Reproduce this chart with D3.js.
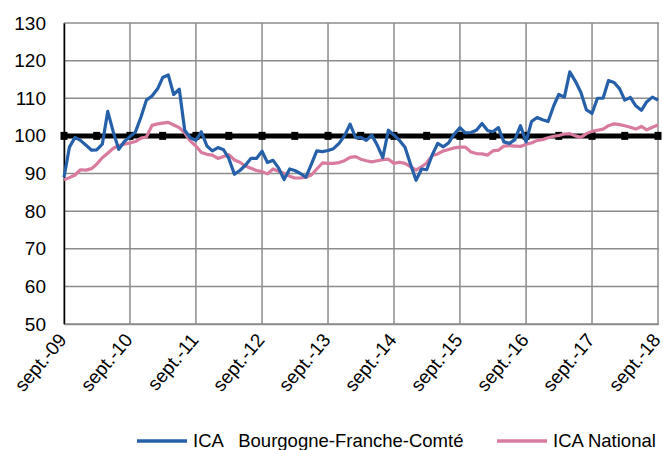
<!doctype html>
<html lang="fr">
<head>
    <meta charset="UTF-8">
    <title>ICA Bourgogne-Franche-Comté / National</title>
    <script type="text/javascript" src="https://cdn.jsdelivr.net/npm/d3@7/dist/d3.min.js"></script>
    <style type="text/css">
        body { margin: 0; background: #fff; }
        svg { display: block; font-family: "Liberation Sans", Arial, sans-serif; }
    </style>
</head>
<body>
<script type="text/javascript">

    var w = 663;
    var h = 450;
    var margin = {top: 23, right: 4, bottom: 126, left: 64};

    // monthly series, sept. 2009 -> sept. 2018
    var startMonth = new Date(2009, 8, 1);
    var icaBfc = [
        89, 97, 99.6, 98.8, 97.5, 96.2, 96.3, 97.8, 106.5, 101, 96.4, 98.5,
        99.8, 101, 105, 109.5, 110.6, 112.5, 115.5, 116.2, 111, 112.4, 101.5, 99.5,
        98.8, 101.1, 97.3, 96, 96.9, 96.3, 94, 89.8, 90.8, 92.2, 94, 94,
        95.9, 92.9, 93.5, 91.5, 88.4, 91.2, 90.8, 90, 89, 92.5, 96, 95.8,
        96.1, 96.6, 98, 100, 103.1, 99.5, 99.6, 98.8, 100.2, 97.5, 94.2, 101.5,
        100.2, 98.8, 97, 92.5, 88.2, 91.2, 91, 95, 98, 97.1, 98.2, 100.5,
        102.2, 100.8, 100.9, 101.5, 103.3, 101.4, 101.1, 102.2, 98.4, 98, 99, 102.7,
        98.4, 103.8, 104.9, 104.3, 103.8, 108, 111, 110.3, 117, 114.5, 111.6, 106.9,
        106, 110, 110, 114.7, 114.2, 112.5, 109.5, 110.2, 108, 106.8, 109.1, 110.3,
        109.5
    ];
    var icaNational = [
        88.3, 88.9, 89.6, 91, 90.9, 91.3, 92.5, 94.2, 95.4, 96.7, 97.4, 97.8,
        98.1, 98.5, 99.4, 99.7, 102.8, 103.2, 103.4, 103.6, 102.9, 102.2, 100.8, 98.6,
        97.3, 95.6, 95.1, 94.9, 94, 94.5, 95, 93.6, 93, 92, 91.4, 90.8,
        90.5, 89.9, 91.2, 90.6, 90, 89.3, 88.8, 88.8, 89, 89.6, 91.2, 92.8,
        92.7, 92.7, 92.9, 93.4, 94.3, 94.5, 93.8, 93.4, 93.1, 93.4, 93.7, 93.8,
        92.7, 93, 92.7, 91.8, 90.9, 91.8, 92.8, 94.8, 95.2, 96, 96.4, 96.8,
        97, 97, 95.7, 95.3, 95.2, 94.9, 96, 96.2, 97.3, 97.4, 97.3, 97.2,
        97.8, 98.1, 98.8, 99, 99.5, 99.9, 100.1, 100.5, 100.6, 100, 99.6, 100.6,
        101.2, 101.5, 101.8, 102.7, 103.2, 103, 102.7, 102.3, 101.8, 102.5, 101.6, 102.3,
        102.9
    ];
    var baseValue = 100;
    var baseMarkerStep = 6; // one marker every 6 months
    var yTicks = [50, 60, 70, 80, 90, 100, 110, 120, 130];
    var xTickLabels = ["sept.-09", "sept.-10", "sept.-11", "sept.-12", "sept.-13",
        "sept.-14", "sept.-15", "sept.-16", "sept.-17", "sept.-18"];
    var legendLabels = ["ICA   Bourgogne-Franche-Comté", "ICA National"];
    var colors = {bfc: "#2660a9", nat: "#d97b9e", base: "#000", grid: "#8c8c8c"};

    var months = icaBfc.map(function (d, i) {
        return d3.timeMonth.offset(startMonth, i);
    });
    var tickDates = xTickLabels.map(function (d, i) {
        return d3.timeMonth.offset(startMonth, i * 12);
    });

    var xScale = d3.scaleTime()
        .domain([months[0], months[months.length - 1]])
        .range([margin.left, w - margin.right - 1]);
    var yScale = d3.scaleLinear()
        .domain([50, 130])
        .range([h - margin.bottom, margin.top]);

    var svg = d3.select("body")
        .append("svg")
        .attr("width", w)
        .attr("height", h);

    // grid
    svg.append("g")
        .selectAll("line")
        .data(yTicks)
        .enter()
        .append("line")
        .attr("x1", margin.left)
        .attr("x2", w - margin.right)
        .attr("y1", function (d) { return yScale(d); })
        .attr("y2", function (d) { return yScale(d); })
        .attr("stroke", colors.grid)
        .attr("stroke-width", 1.5);

    svg.append("g")
        .selectAll("line")
        .data(tickDates)
        .enter()
        .append("line")
        .attr("x1", function (d) { return xScale(d); })
        .attr("x2", function (d) { return xScale(d); })
        .attr("y1", yScale(130))
        .attr("y2", yScale(50))
        .attr("stroke", colors.grid)
        .attr("stroke-width", 1.5);

    // y axis
    var yAxis = d3.axisLeft(yScale)
        .tickValues(yTicks)
        .tickSize(0)
        .tickPadding(18);
    var yG = svg.append("g")
        .attr("transform", "translate(" + margin.left + ",0)")
        .call(yAxis);
    yG.select(".domain").attr("stroke", "#000").attr("stroke-width", 1.5);
    yG.selectAll("text")
        .attr("font-size", "19px")
        .attr("fill", "#000")
        .attr("font-family", "Liberation Sans, Arial, sans-serif");

    // x axis
    var xAxis = d3.axisBottom(xScale)
        .tickValues(tickDates)
        .tickSize(0)
        .tickFormat(function (d, i) { return xTickLabels[i]; });
    var xG = svg.append("g")
        .attr("transform", "translate(0," + yScale(50) + ")")
        .call(xAxis);
    xG.select(".domain").attr("stroke", colors.grid).attr("stroke-width", 1.5);
    xG.selectAll("text")
        .attr("font-size", "19px")
        .attr("fill", "#000")
        .attr("font-family", "Liberation Sans, Arial, sans-serif")
        .attr("text-anchor", "end")
        .attr("dy", "0.35em")
        .attr("y", 0)
        .attr("transform", "translate(-2,12) rotate(-50)");

    // base 100 line
    var line = d3.line()
        .x(function (d, i) { return xScale(months[i]); })
        .y(function (d) { return yScale(d); });

    svg.append("line")
        .attr("x1", xScale(months[0]))
        .attr("x2", xScale(months[months.length - 1]))
        .attr("y1", yScale(baseValue))
        .attr("y2", yScale(baseValue))
        .attr("stroke", colors.base)
        .attr("stroke-width", 5);

    svg.selectAll("rect.marker")
        .data(months.filter(function (d, i) { return i % baseMarkerStep === 0; }))
        .enter()
        .append("rect")
        .attr("class", "marker")
        .attr("x", function (d) { return xScale(d) - 3.5; })
        .attr("y", yScale(baseValue) - 4)
        .attr("width", 7)
        .attr("height", 8)
        .attr("fill", colors.base);

    // series
    svg.append("path")
        .datum(icaNational)
        .attr("d", line)
        .attr("fill", "none")
        .attr("stroke", colors.nat)
        .attr("stroke-width", 3.2)
        .attr("stroke-linejoin", "round");

    svg.append("path")
        .datum(icaBfc)
        .attr("d", line)
        .attr("fill", "none")
        .attr("stroke", colors.bfc)
        .attr("stroke-width", 3.2)
        .attr("stroke-linejoin", "round");

    // legend
    var legend = svg.append("g").attr("class", "legend");
    var legendItems = [
        {label: legendLabels[0], color: colors.bfc, x: 137},
        {label: legendLabels[1], color: colors.nat, x: 497}
    ];
    legendItems.forEach(function (item) {
        legend.append("line")
            .attr("x1", item.x)
            .attr("x2", item.x + 50)
            .attr("y1", 441)
            .attr("y2", 441)
            .attr("stroke", item.color)
            .attr("stroke-width", 3.5);
        legend.append("text")
            .attr("x", item.x + 56)
            .attr("y", 447)
            .attr("font-size", "18.5px")
            .attr("fill", "#000")
            .style("white-space", "pre")
            .text(item.label);
    });

</script>
</body>
</html>
